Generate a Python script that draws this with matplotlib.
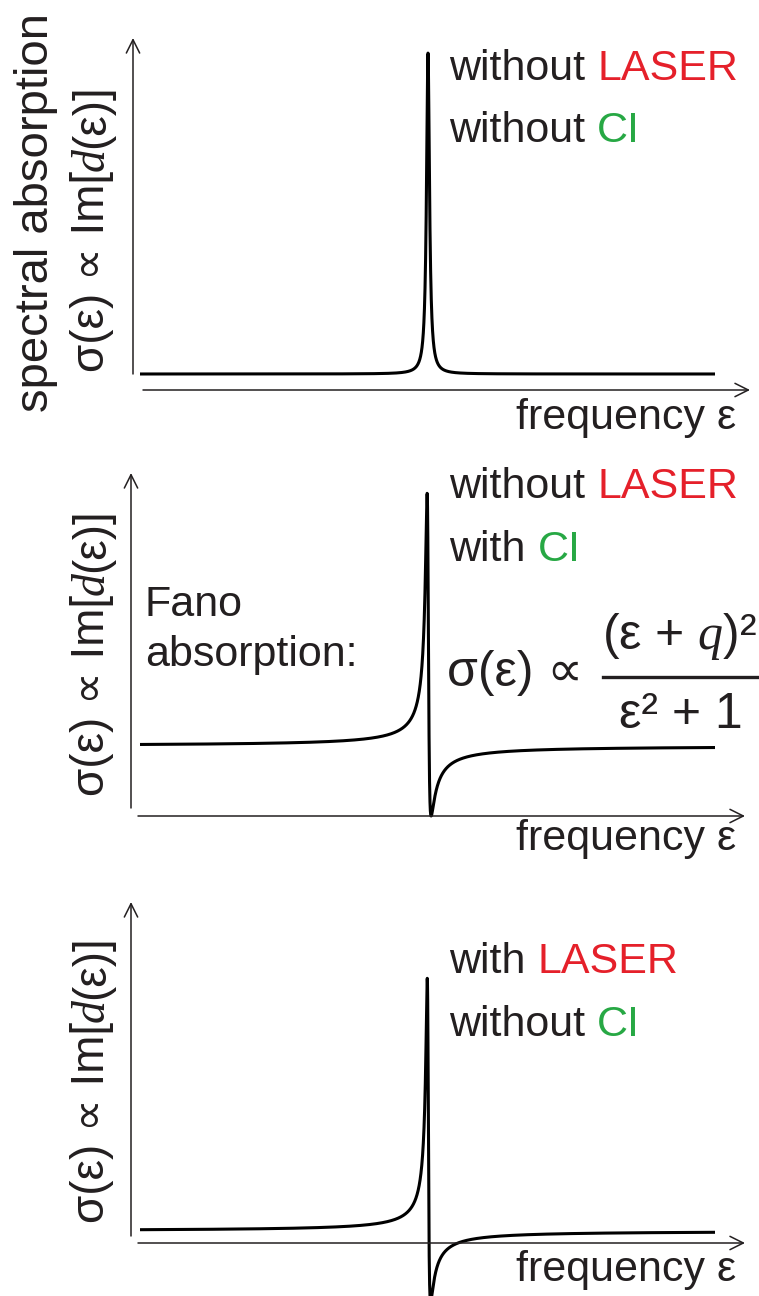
import numpy as np
import matplotlib
matplotlib.use('Agg')
import matplotlib.pyplot as plt

plt.rcParams['font.family'] = ['Liberation Sans', 'DejaVu Sans']
plt.rcParams['mathtext.fontset'] = 'custom'
plt.rcParams['mathtext.it'] = 'Liberation Serif:italic'
plt.rcParams['mathtext.rm'] = 'Liberation Sans'

W, H = 759, 1296
INK = '#231f20'
RED = '#e5202a'
GREEN = '#27a844'

# frequency grid (detuning from resonance, arb. units)
freq = np.linspace(-288, 287, 8000)

# panel 1: plain Lorentzian line
lor_width = 1.8
lor_base = 16
lor_height = 321

# panel 2: Fano profile, sigma ~ (e+q)^2/(e^2+1)
fano_width = 1.65
fano_q = 1.9
fano_base = 70

# panel 3: laser-dressed line, Fano-like with offset
dress_width = 1.4
dress_q = 1.9
dress_base = 12
dress_amp = 70

labels_top = [('without ', 'LASER'), ('without ', 'CI'), ('with ', 'LASER'), ('with ', 'CI')]


def lorentz(x, w, base, h):
    e = x / w
    return base + h / (e ** 2 + 1)


def fano(x, w, q, base, amp):
    e = x / w
    return base + amp * ((e - q) ** 2 / (e ** 2 + 1) - 1)


sig_top = lorentz(freq, lor_width, lor_base, lor_height)
sig_mid = fano(freq, fano_width, fano_q, fano_base, fano_base)
sig_bot = fano(freq, dress_width, dress_q, dress_base, dress_amp)

fig = plt.figure(figsize=(W / 100, H / 100), dpi=100)


def fx(px):
    return px / W


def fy(py):
    return 1 - py / H


def panel(yax_x, ytip, ybot, xax_y, xstart, xtip, center=428):
    ax = fig.add_axes([fx(yax_x), fy(xax_y), (xtip - yax_x) / W, (xax_y - ytip) / H])
    ax.set_xlim(yax_x - center, xtip - center)
    ax.set_ylim(0, xax_y - ytip)
    ax.axis('off')
    ap = dict(arrowstyle='->', lw=1.1, color=INK, mutation_scale=24, shrinkA=0, shrinkB=0)
    ax.annotate('', xy=(yax_x - center, xax_y - ytip), xytext=(yax_x - center, xax_y - ybot),
                arrowprops=ap, annotation_clip=False)
    ax.annotate('', xy=(xtip - center, 0), xytext=(xstart - center, 0),
                arrowprops=ap, annotation_clip=False)
    return ax


ax1 = panel(133, 38, 374, 390, 143, 750)
ax1.plot(freq, sig_top, color='black', lw=2.2, clip_on=False, solid_capstyle='butt')

ax2 = panel(131, 473, 808, 816, 138, 745)
ax2.plot(freq, sig_mid, color='black', lw=2.2, clip_on=False, solid_capstyle='butt')

ax3 = panel(131, 902, 1236, 1243, 138, 745)
ax3.plot(freq, sig_bot, color='black', lw=2.2, clip_on=False, solid_capstyle='butt')

FS = 31
renderer = fig.canvas.get_renderer()


def two_tone(x, y, pre, word, color):
    t = fig.text(fx(x), fy(y), pre, fontsize=FS, color=INK, va='center', ha='left')
    bb = t.get_window_extent(renderer)
    fig.text(bb.x1 / W, fy(y), word, fontsize=FS, color=color, va='center', ha='left')


two_tone(449, 69, *labels_top[0], RED)
two_tone(449, 131, *labels_top[1], GREEN)
two_tone(449, 487, *labels_top[0], RED)
two_tone(449, 550, *labels_top[3], GREEN)
two_tone(449, 962, *labels_top[2], RED)
two_tone(449, 1025, *labels_top[1], GREEN)

for yy in (418, 839, 1270):
    fig.text(fx(736), fy(yy), 'frequency ε', fontsize=FS, color=INK, ha='right', va='center')

# y labels
fig.text(fx(36), fy(212), 'spectral absorption', fontsize=34, color=INK,
         rotation=90, ha='center', va='center')


def vlabel(x, ycen, size=33):
    # rotated label built from pieces so that d is set in italic serif
    parts = [('σ(ε) ∝ Im[', {}), ('d', {'family': 'Liberation Serif', 'style': 'italic'}),
             ('(ε)]', {})]
    texts = []
    total = 0
    for s, kw in parts:
        t = fig.text(0, 0, s, fontsize=size, color=INK, rotation=90,
                     ha='left', va='center', rotation_mode='anchor', **kw)
        h = t.get_window_extent(renderer).height
        texts.append((t, h))
        total += h
    ypos = H - ycen - total / 2
    for t, h in texts:
        t.set_position((fx(x), ypos / H))
        ypos += h


for yy in (228, 652, 1079):
    vlabel(92, yy)

# Fano formula
fig.text(fx(145), fy(605), 'Fano', fontsize=FS, color=INK, va='center')
fig.text(fx(145), fy(655), 'absorption:', fontsize=FS, color=INK, va='center')
fig.text(fx(447), fy(673), 'σ(ε) ∝', fontsize=36, color=INK, va='center')
fig.text(fx(680), fy(637), '(ε + $q$)²', fontsize=36, color=INK, va='center', ha='center')
fig.text(fx(681), fy(715), 'ε² + 1', fontsize=36, color=INK, va='center', ha='center')
fig.add_artist(plt.Line2D([fx(603), fx(757)], [fy(677), fy(677)], color=INK, lw=2.4))

fig.savefig('out.png', dpi=100)
